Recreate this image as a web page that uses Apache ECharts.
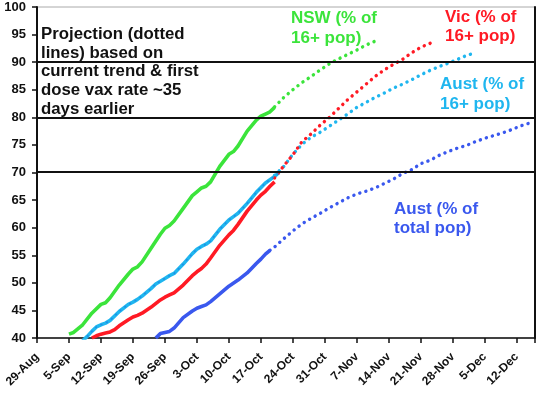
<!DOCTYPE html>
<html>
<head>
<meta charset="utf-8">
<script src="https://cdn.jsdelivr.net/npm/echarts@6/dist/echarts.min.js"></script>
<style>html,body{margin:0;padding:0;background:#fff;}#c{width:548px;height:393px;}</style>
</head>
<body>
<div id="c"></div>
<script>
// x values are day offsets from 29-Aug
var xTickLabels = ['29-Aug','5-Sep','12-Sep','19-Sep','26-Sep','3-Oct','10-Oct','17-Oct','24-Oct','31-Oct','7-Nov','14-Nov','21-Nov','28-Nov','5-Dec','12-Dec'];
var yTickValues = [40,45,50,55,60,65,70,75,80,85,90,95,100];
var refLines = [70.2, 80, 90];

var nswActualDays = [7,8,10,12,14,15,16,18,20,21,22,23,25,27,28,29,30,32,34,35,36,37,38,40,42,43,44,46,48,49,50,51,52];
var nswActualVals = [40.7,41,42.4,44.5,46.1,46.4,47.3,49.6,51.6,52.5,52.9,53.8,56.3,58.8,59.9,60.4,61.2,63.5,65.8,66.5,67.2,67.5,68.3,71.1,73.3,73.8,74.8,77.5,79.5,80.2,80.6,81,81.8];
var nswProjDays = [52,54,56,58,60,62,64,66,68,70,72,74];
var nswProjVals = [81.9,83.6,85,86.3,87.4,88.6,89.7,90.6,91.4,92.2,93.1,93.8];

var vicActualDays = [12,13,14,15,16,17,18,20,21,22,23,25,27,28,29,30,32,34,35,36,37,38,40,42,43,44,46,48,49,50,51,52];
var vicActualVals = [40,40.4,40.7,40.9,41.1,41.5,42.2,43.3,43.8,44.1,44.5,45.6,46.9,47.4,47.8,48.2,49.6,51.3,52,52.6,53.4,54.5,56.8,58.7,59.5,60.6,63,65,65.9,66.6,67.5,68.3];
var vicProjDays = [52,54,56,58,60,62,64,66,68,70,72,74,76,78,80,82,84,86,87];
var vicProjVals = [69,71.2,73.2,75.6,77,78.6,80,81.6,83.2,84.6,86,87.4,88.6,89.6,90.5,91.7,92.7,93.4,93.8];

var aus16ActualDays = [10,11,12,13,14,15,16,18,20,21,22,23,25,26,27,28,29,30,32,34,35,36,37,38,40,42,43,44,46,48,50,52,53];
var aus16ActualVals = [39.5,40.3,41.2,42,42.4,42.7,43.2,44.8,46.1,46.5,47,47.6,49,49.8,50.3,50.8,51.3,51.7,53.4,55.3,56.1,56.6,57,57.6,59.7,61.4,62,62.6,64.4,66.4,68.1,69.3,70];
var aus16ProjDays = [52,54,56,58,60,62,64,66,68,70,72,74,76,78,80,82,84,86,88,90,92,94,96];
var aus16ProjVals = [69.5,71.1,73.3,75.1,76.4,77.3,78.4,79.5,80.6,81.8,82.7,83.6,84.4,85.3,86,86.8,87.7,88.5,89.2,89.8,90.5,91.2,91.7];

var ausTotActualDays = [26,27,28,29,30,32,34,35,36,37,38,40,42,44,46,48,49,50,51];
var ausTotActualVals = [40,40.8,41,41.2,41.8,43.7,44.9,45.4,45.7,46,46.6,48,49.4,50.5,51.8,53.5,54.3,55.2,55.9];
var ausTotProjDays = [51,52,54,56,58,60,62,64,66,68,70,72,74,76,78,80,82,84,86,88,90,92,94,96,98,100,102,104,106,108];
var ausTotProjVals = [55.9,56.5,58,59.4,60.7,61.7,62.6,63.6,64.5,65.4,66.1,66.6,67.2,68,68.8,69.8,70.5,71.6,72.2,73.1,73.8,74.4,74.9,75.6,76.2,76.7,77.2,77.8,78.5,79];

function pairs(xs, ys){ return xs.map(function(x,i){ return [x, ys[i]]; }); }

var GREEN = '#3BE43B', RED = '#FF1A24', CYAN = '#1FB6EF', BLUE = '#3A58EE';
var dotStyle = function(c){ return {color:c, width:3.4, type:[0.1,6.2], cap:'round'}; };
function solid(name, data, c, w){ return {name:name, type:'line', data:data, symbol:'none', smooth:false, lineStyle:{color:c, width:w||3.6}, z:3}; }
function dotted(name, data, c){ return {name:name, type:'line', data:data, symbol:'none', lineStyle:dotStyle(c), z:3}; }

var chart = echarts.init(document.getElementById('c'), null, {renderer:'canvas'});
var axisFont = {fontFamily:'Liberation Sans, Arial, sans-serif', fontWeight:'bold', color:'#111'};
var FONT17 = 'bold 17px "Liberation Sans", Arial, sans-serif';
var option = {
  animation:false,
  backgroundColor:'#fff',
  grid:{left:37, right:13, top:7, bottom:55, show:true, borderColor:'#aaa', borderWidth:1},
  xAxis:{type:'value', min:0, max:109, interval:7,
    axisLine:{show:true, lineStyle:{color:'#111', width:1.5}},
    axisTick:{show:true, length:5, lineStyle:{color:'#111', width:1.5}},
    splitLine:{show:false},
    axisLabel:Object.assign({rotate:45, fontSize:12, margin:17, formatter:function(v){ return (v % 7 === 0 && v/7 < xTickLabels.length) ? xTickLabels[v/7] : ''; }}, axisFont)
  },
  yAxis:[{type:'value', min:yTickValues[0], max:yTickValues[yTickValues.length-1], interval:5,
    axisLine:{show:true, lineStyle:{color:'#111', width:2}},
    axisTick:{show:true, length:5, lineStyle:{color:'#111', width:1.5}},
    splitLine:{show:false},
    axisLabel:Object.assign({fontSize:13, margin:11}, axisFont)
  },{type:'value', position:'right', min:40, max:100, interval:5,
    axisLine:{show:true, lineStyle:{color:'#111', width:2}}, axisTick:{show:false}, axisLabel:{show:false}, splitLine:{show:false}}],
  series:[
    {type:'line', data:[], markLine:{silent:true, symbol:'none', label:{show:false},
      lineStyle:{color:'#111', width:2, type:'solid'}, data:refLines.map(function(v){ return {yAxis:v}; })}, z:2},
    solid('NSW', pairs(nswActualDays, nswActualVals), GREEN),
    dotted('NSW proj', pairs(nswProjDays, nswProjVals), GREEN),
    solid('Aust 16+', pairs(aus16ActualDays, aus16ActualVals), CYAN),
    {type:'line', data:pairs(aus16ActualDays, aus16ActualVals), symbol:'none', lineStyle:{color:'#1E90E6', width:1.6, type:[2,4]}, z:4},
    dotted('Aust 16+ proj', pairs(aus16ProjDays, aus16ProjVals), CYAN),
    solid('Vic', pairs(vicActualDays, vicActualVals), RED),
    dotted('Vic proj', pairs(vicProjDays, vicProjVals), RED),
    solid('Aust total', pairs(ausTotActualDays, ausTotActualVals), BLUE),
    dotted('Aust total proj', pairs(ausTotProjDays, ausTotProjVals), BLUE)
  ],
  graphic:[
    {type:'text', left:41, top:25, z:10, style:{text:'Projection (dotted\nlines) based on\ncurrent trend & first\ndose vax rate ~35\ndays earlier', font:'bold 16.8px "Liberation Sans", Arial, sans-serif', fill:'#111', lineHeight:18.7}},
    {type:'text', left:291, top:9, z:10, style:{text:'NSW (% of\n16+ pop)', font:FONT17, fill:GREEN, lineHeight:19.5}},
    {type:'text', left:445, top:7.5, z:10, style:{text:'Vic (% of\n16+ pop)', font:FONT17, fill:RED, lineHeight:19.5}},
    {type:'text', left:440, top:75, z:10, style:{text:'Aust (% of\n16+ pop)', font:FONT17, fill:CYAN, lineHeight:19.5}},
    {type:'text', left:394, top:199.5, z:10, style:{text:'Aust (% of\ntotal pop)', font:FONT17, fill:BLUE, lineHeight:19.5}}
  ]
};
chart.setOption(option);
</script>
</body>
</html>
